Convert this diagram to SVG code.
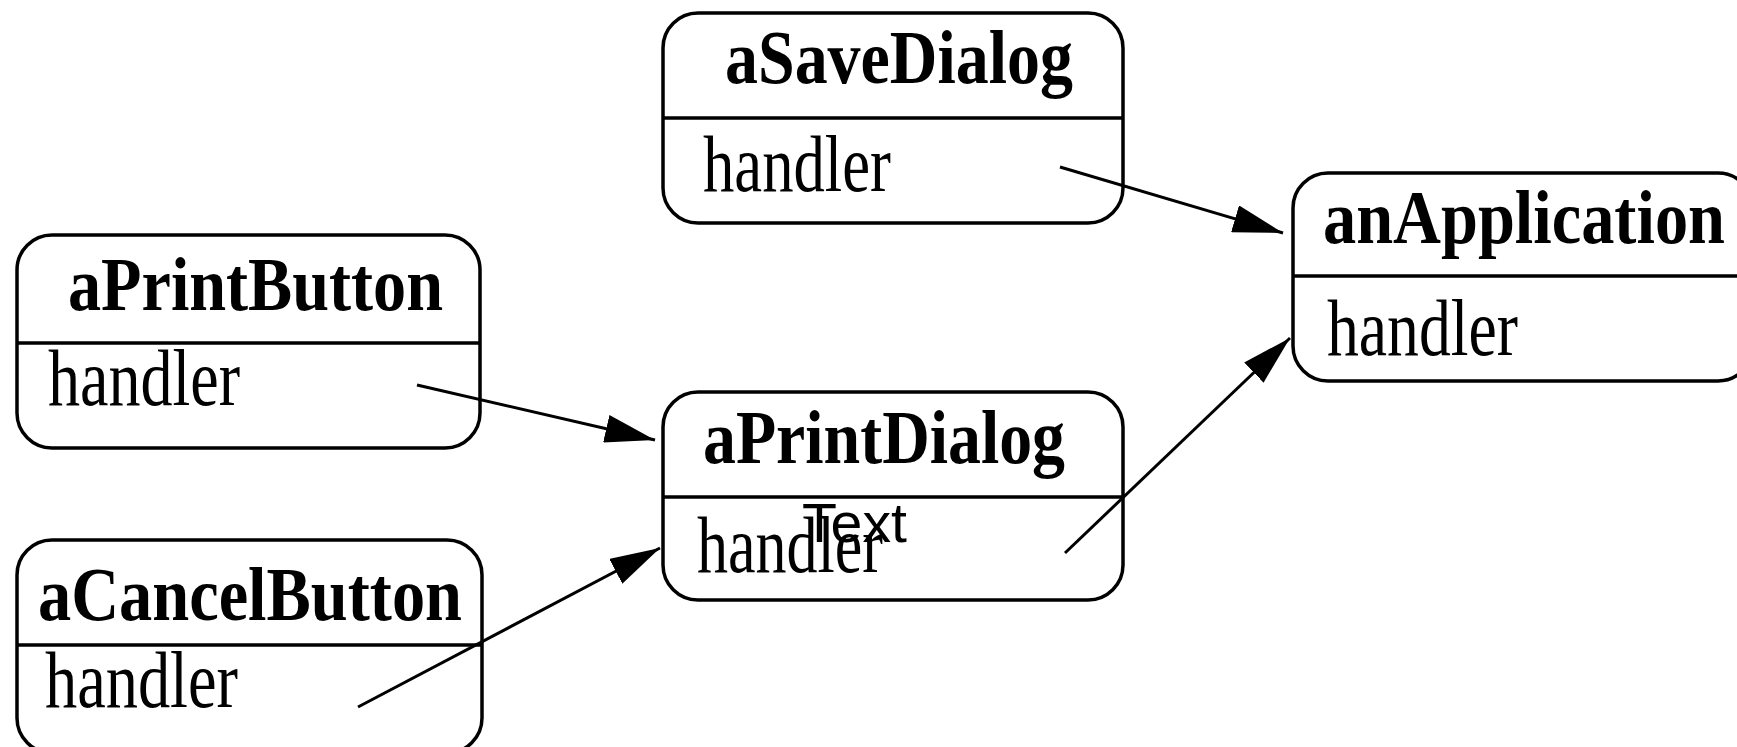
<svg xmlns="http://www.w3.org/2000/svg" width="1737" height="747" viewBox="0 0 1737 747">
<style>
.box{fill:#fff;stroke:#000;stroke-width:3.5}
.div{stroke:#000;stroke-width:3.5}
.title{font-family:"Liberation Serif",serif;font-weight:bold;font-size:76px;fill:#000}
.attr{font-family:"Liberation Serif",serif;font-size:80px;fill:#000}
.lbl{font-family:"Liberation Sans",sans-serif;font-size:55px;fill:#000}
.conn{stroke:#000;stroke-width:3;fill:none}
</style>
<defs>
<marker id="arr" viewBox="0 0 50 28" refX="50" refY="14" markerWidth="50" markerHeight="28" markerUnits="userSpaceOnUse" orient="auto">
<path d="M0,0 L50,14 L0,28 Z" fill="#000"/>
</marker>
</defs>
<g id="aSaveDialog">
<rect class="box" x="663" y="13" width="460" height="210" rx="35" ry="35"/>
<line class="div" x1="663" y1="118" x2="1123" y2="118"/>
<text class="title" x="725" y="83" textLength="348" lengthAdjust="spacingAndGlyphs">aSaveDialog</text>
<text class="attr" x="703" y="191" textLength="188" lengthAdjust="spacingAndGlyphs">handler</text>
</g>
<g id="anApplication">
<rect class="box" x="1293" y="173" width="460" height="208" rx="35" ry="35"/>
<line class="div" x1="1293" y1="276" x2="1753" y2="276"/>
<text class="title" x="1323" y="243" textLength="402" lengthAdjust="spacingAndGlyphs">anApplication</text>
<text class="attr" x="1327" y="355" textLength="191" lengthAdjust="spacingAndGlyphs">handler</text>
</g>
<g id="aPrintButton">
<rect class="box" x="17" y="235" width="463" height="213" rx="35" ry="35"/>
<line class="div" x1="17" y1="343" x2="480" y2="343"/>
<text class="title" x="68" y="310" textLength="375" lengthAdjust="spacingAndGlyphs">aPrintButton</text>
<text class="attr" x="48" y="405" textLength="192" lengthAdjust="spacingAndGlyphs">handler</text>
</g>
<g id="aCancelButton">
<rect class="box" x="17" y="540" width="465" height="213" rx="35" ry="35"/>
<line class="div" x1="17" y1="645" x2="482" y2="645"/>
<text class="title" x="38" y="620" textLength="424" lengthAdjust="spacingAndGlyphs">aCancelButton</text>
<text class="attr" x="45" y="707" textLength="193" lengthAdjust="spacingAndGlyphs">handler</text>
</g>
<g id="aPrintDialog">
<rect class="box" x="663" y="392" width="460" height="208" rx="35" ry="35"/>
<line class="div" x1="663" y1="497" x2="1123" y2="497"/>
<text class="title" x="703" y="463" textLength="362" lengthAdjust="spacingAndGlyphs">aPrintDialog</text>
<text class="attr" x="697" y="572" textLength="186" lengthAdjust="spacingAndGlyphs">handler</text>
<text class="lbl" x="802" y="542" textLength="105" lengthAdjust="spacingAndGlyphs">Text</text>
</g>
<g id="connectors">
<line class="conn" x1="1060" y1="167" x2="1283" y2="233" marker-end="url(#arr)"/>
<line class="conn" x1="1065" y1="553" x2="1290" y2="338" marker-end="url(#arr)"/>
<line class="conn" x1="417" y1="385" x2="655" y2="440" marker-end="url(#arr)"/>
<line class="conn" x1="358" y1="707" x2="660" y2="548" marker-end="url(#arr)"/>
</g>
</svg>
